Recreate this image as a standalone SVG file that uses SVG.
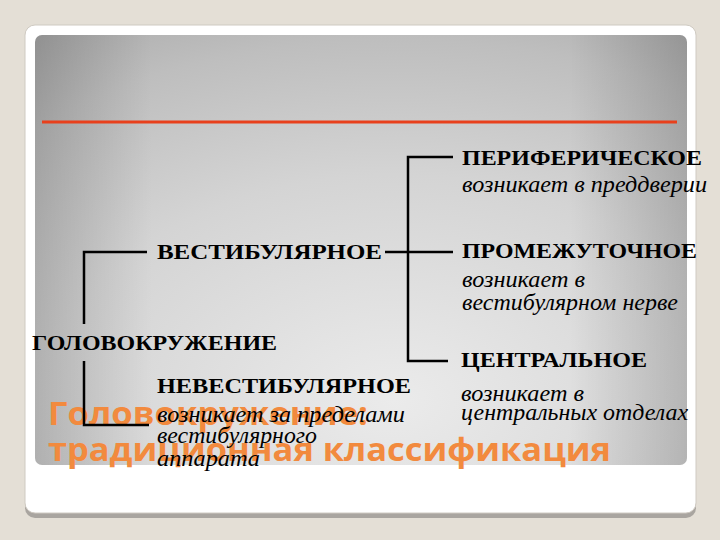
<svg xmlns="http://www.w3.org/2000/svg" width="720" height="540" viewBox="0 0 720 540">
<defs>
<radialGradient id="pg" cx="0.55" cy="0.85" r="1.05" gradientUnits="objectBoundingBox">
<stop offset="0" stop-color="#ebebeb"/>
<stop offset="0.5" stop-color="#d4d4d4"/>
<stop offset="0.8" stop-color="#bebebe"/>
<stop offset="1" stop-color="#a8a8a8"/>
</radialGradient>
<linearGradient id="side" x1="0" y1="0" x2="1" y2="0">
<stop offset="0" stop-color="#000" stop-opacity="0.16"/>
<stop offset="0.18" stop-color="#000" stop-opacity="0"/>
<stop offset="0.82" stop-color="#000" stop-opacity="0"/>
<stop offset="1" stop-color="#000" stop-opacity="0.16"/>
</linearGradient>
<style>
.h{font-family:"Liberation Serif","Times New Roman",serif;font-weight:bold;font-size:21px;fill:#000}
.i{font-family:"Liberation Serif","Times New Roman",serif;font-style:italic;font-size:23px;fill:#000}
.t{font-family:"Open Sans","DejaVu Sans",sans-serif;font-weight:bold;font-size:33px;fill:#f28a3e}
.c{fill:none;stroke:#000;stroke-width:2.5}
</style>
</defs>
<rect x="0" y="0" width="720" height="540" fill="#e4dfd6"/>
<rect x="25" y="27" width="671" height="491" rx="10" fill="#a9a5a0"/>
<rect x="25" y="25" width="671" height="488" rx="10" fill="#ffffff" stroke="#cfcac2" stroke-width="1"/>
<rect x="35" y="35" width="652" height="430" rx="7" fill="url(#pg)"/>
<rect x="35" y="35" width="652" height="430" rx="7" fill="url(#side)"/>
<line x1="42" y1="122" x2="677" y2="122" stroke="#e8401c" stroke-width="3"/>
<g id="title">
<text class="t" x="48" y="425" textLength="320" lengthAdjust="spacingAndGlyphs">Головокружение:</text>
<text class="t" x="48" y="461" textLength="563" lengthAdjust="spacingAndGlyphs">традиционная классификация</text>
</g>
<g id="connectors">
<polyline class="c" points="453,157 408,157 408,361 448,361"/>
<line class="c" x1="385" y1="252" x2="453" y2="252"/>
<polyline class="c" points="147,252 84,252 84,324"/>
<polyline class="c" points="84,361 84,425 149,425"/>
</g>
<g id="node-root">
<text class="h" x="32" y="350" textLength="245" lengthAdjust="spacingAndGlyphs">ГОЛОВОКРУЖЕНИЕ</text>
</g>
<g id="node-vest">
<text class="h" x="157" y="259" textLength="225" lengthAdjust="spacingAndGlyphs">ВЕСТИБУЛЯРНОЕ</text>
</g>
<g id="node-nevest">
<text class="h" x="157" y="393" textLength="254" lengthAdjust="spacingAndGlyphs">НЕВЕСТИБУЛЯРНОЕ</text>
<text class="i" x="157" y="422" textLength="248" lengthAdjust="spacingAndGlyphs">возникает за пределами</text>
<text class="i" x="157" y="443" textLength="160" lengthAdjust="spacingAndGlyphs">вестибулярного</text>
<text class="i" x="157" y="466" textLength="103" lengthAdjust="spacingAndGlyphs">аппарата</text>
</g>
<g id="node-periph">
<text class="h" x="462" y="165" textLength="240" lengthAdjust="spacingAndGlyphs">ПЕРИФЕРИЧЕСКОЕ</text>
<text class="i" x="462" y="192" textLength="245" lengthAdjust="spacingAndGlyphs">возникает в преддверии</text>
</g>
<g id="node-inter">
<text class="h" x="462" y="258" textLength="235" lengthAdjust="spacingAndGlyphs">ПРОМЕЖУТОЧНОЕ</text>
<text class="i" x="462" y="287" textLength="123" lengthAdjust="spacingAndGlyphs">возникает в</text>
<text class="i" x="462" y="310" textLength="216" lengthAdjust="spacingAndGlyphs">вестибулярном нерве</text>
</g>
<g id="node-central">
<text class="h" x="461" y="367" textLength="186" lengthAdjust="spacingAndGlyphs">ЦЕНТРАЛЬНОЕ</text>
<text class="i" x="461" y="401" textLength="123" lengthAdjust="spacingAndGlyphs">возникает в</text>
<text class="i" x="461" y="420" textLength="227" lengthAdjust="spacingAndGlyphs">центральных отделах</text>
</g>
</svg>
